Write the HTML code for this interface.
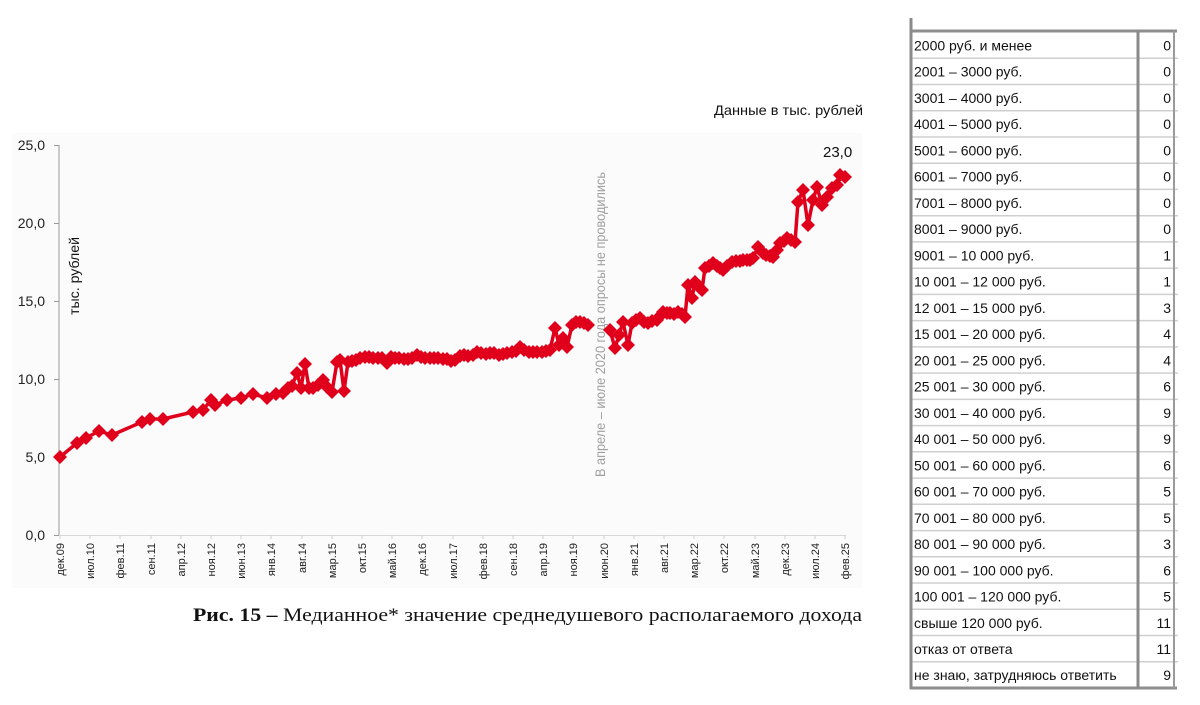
<!DOCTYPE html>
<html><head><meta charset="utf-8"><style>
html,body{margin:0;padding:0;background:#fff;}
svg{display:block;}
text{font-family:"Liberation Sans",Arial,sans-serif;}
</style></head><body>
<svg width="1200" height="705" viewBox="0 0 1200 705" xmlns="http://www.w3.org/2000/svg">
<defs>
<marker id="d" markerUnits="userSpaceOnUse" markerWidth="16" markerHeight="16" refX="8" refY="8" viewBox="0 0 16 16">
<path d="M8,1 L15,8 L8,15 L1,8 Z" fill="#e0001b"/>
</marker>
</defs>
<rect x="0" y="0" width="1200" height="705" fill="#fff"/>
<rect x="12" y="133" width="850" height="455" fill="#fbfbfb"/>

<!-- axes -->
<line x1="59" y1="145" x2="59" y2="536" stroke="#9a9a9a" stroke-width="1"/>
<line x1="59" y1="535.5" x2="846" y2="535.5" stroke="#d8d8d8" stroke-width="1"/>
<g stroke="#9a9a9a" stroke-width="1">
<line x1="54" y1="145.5" x2="59" y2="145.5"/>
<line x1="54" y1="223.5" x2="59" y2="223.5"/>
<line x1="54" y1="301.5" x2="59" y2="301.5"/>
<line x1="54" y1="379.5" x2="59" y2="379.5"/>
<line x1="54" y1="457.5" x2="59" y2="457.5"/>
<line x1="54" y1="535.5" x2="59" y2="535.5"/>
</g>
<g font-size="14" fill="#222" text-anchor="end">
<text x="45" y="150">25,0</text>
<text x="45" y="228">20,0</text>
<text x="45" y="306">15,0</text>
<text x="45" y="384">10,0</text>
<text x="45" y="462">5,0</text>
<text x="45" y="540">0,0</text>
</g>
<text transform="translate(79,315) rotate(-90)" font-size="14" fill="#111" textLength="78" lengthAdjust="spacingAndGlyphs">тыс. рублей</text>

<!-- x ticks & labels -->
<g stroke="#cfcfcf" stroke-width="1">
<line x1="60" y1="535" x2="60" y2="539"/><line x1="90" y1="535" x2="90" y2="539"/><line x1="120" y1="535" x2="120" y2="539"/><line x1="151" y1="535" x2="151" y2="539"/><line x1="181" y1="535" x2="181" y2="539"/><line x1="211" y1="535" x2="211" y2="539"/><line x1="241" y1="535" x2="241" y2="539"/><line x1="271" y1="535" x2="271" y2="539"/><line x1="302" y1="535" x2="302" y2="539"/><line x1="332" y1="535" x2="332" y2="539"/><line x1="362" y1="535" x2="362" y2="539"/><line x1="392" y1="535" x2="392" y2="539"/><line x1="422" y1="535" x2="422" y2="539"/><line x1="453" y1="535" x2="453" y2="539"/><line x1="483" y1="535" x2="483" y2="539"/><line x1="513" y1="535" x2="513" y2="539"/><line x1="543" y1="535" x2="543" y2="539"/><line x1="573" y1="535" x2="573" y2="539"/><line x1="604" y1="535" x2="604" y2="539"/><line x1="634" y1="535" x2="634" y2="539"/><line x1="664" y1="535" x2="664" y2="539"/><line x1="694" y1="535" x2="694" y2="539"/><line x1="724" y1="535" x2="724" y2="539"/><line x1="755" y1="535" x2="755" y2="539"/><line x1="785" y1="535" x2="785" y2="539"/><line x1="815" y1="535" x2="815" y2="539"/><line x1="845" y1="535" x2="845" y2="539"/>
</g>
<g font-size="11" fill="#222" text-anchor="end">
<text transform="translate(64,543) rotate(-90)">дек.09</text>
<text transform="translate(94,543) rotate(-90)">июл.10</text>
<text transform="translate(124,543) rotate(-90)">фев.11</text>
<text transform="translate(155,543) rotate(-90)">сен.11</text>
<text transform="translate(185,543) rotate(-90)">апр.12</text>
<text transform="translate(215,543) rotate(-90)">ноя.12</text>
<text transform="translate(245,543) rotate(-90)">июн.13</text>
<text transform="translate(275,543) rotate(-90)">янв.14</text>
<text transform="translate(306,543) rotate(-90)">авг.14</text>
<text transform="translate(336,543) rotate(-90)">мар.15</text>
<text transform="translate(366,543) rotate(-90)">окт.15</text>
<text transform="translate(396,543) rotate(-90)">май.16</text>
<text transform="translate(426,543) rotate(-90)">дек.16</text>
<text transform="translate(457,543) rotate(-90)">июл.17</text>
<text transform="translate(487,543) rotate(-90)">фев.18</text>
<text transform="translate(517,543) rotate(-90)">сен.18</text>
<text transform="translate(547,543) rotate(-90)">апр.19</text>
<text transform="translate(577,543) rotate(-90)">ноя.19</text>
<text transform="translate(608,543) rotate(-90)">июн.20</text>
<text transform="translate(638,543) rotate(-90)">янв.21</text>
<text transform="translate(668,543) rotate(-90)">авг.21</text>
<text transform="translate(698,543) rotate(-90)">мар.22</text>
<text transform="translate(728,543) rotate(-90)">окт.22</text>
<text transform="translate(759,543) rotate(-90)">май.23</text>
<text transform="translate(789,543) rotate(-90)">дек.23</text>
<text transform="translate(819,543) rotate(-90)">июл.24</text>
<text transform="translate(849,543) rotate(-90)">фев.25</text>
</g>

<!-- gap note -->
<text transform="translate(605,477) rotate(-90)" font-size="13.5" fill="#a0a0a0" textLength="305" lengthAdjust="spacingAndGlyphs">В апреле – июле 2020 года опросы не проводились</text>

<!-- series -->
<g fill="none" stroke="#e0001b" stroke-width="3.5" stroke-linejoin="round" marker-start="url(#d)" marker-mid="url(#d)" marker-end="url(#d)">
<polyline points="60,457 77,443 86,438 99,431 112,435 142,422 150,419 163,419 193,412 203,410 211,400 215,405 227,400 241,398 253,394 267,398 276,394 283,393 288,388 292,386 297,373 301,388 305,364 309,388 313,388 318,385 323,380 327,387 332,392 337,362 340,360 344,391 348,362 352,361 356,360 360,358 365,357 369,357 373,358 378,358 382,358 387,363 391,357 395,358 399,358 404,359 408,359 412,358 417,355 421,357 425,358 430,358 434,358 438,358 443,359 447,359 451,361 455,360 460,356 464,355 468,356 473,355 477,352 481,353 486,354 490,353 494,353 499,355 503,354 507,353 512,352 516,351 520,347 524,350 529,352 533,352 537,352 542,352 546,351 550,350 555,328 559,345 563,338 567,347 572,325 576,322 580,322 584,323 588,325"/>
<polyline points="610,330 615,348 619,335 623,322 628,345 632,323 636,320 640,318 644,322 648,323 652,321 657,320 660,316 663,312 667,313 670,313 674,314 678,312 682,314 685,317 688,285 692,298 695,282 699,287 702,290 705,268 709,266 713,263 717,266 720,268 723,270 727,266 732,262 736,261 740,261 743,260 747,260 750,260 753,258 758,247 763,253 766,255 770,256 773,257 777,250 780,243 784,241 787,238 791,240 795,242 798,202 803,190 808,225 813,200 817,187 822,205 827,197 832,188 837,185 840,175 845,177"/>
</g>

<text x="714" y="115" font-size="14" fill="#111" textLength="149" lengthAdjust="spacingAndGlyphs">Данные в тыс. рублей</text>
<text x="823" y="157" font-size="15" fill="#111">23,0</text>

<!-- caption -->
<text x="193" y="621" font-size="19" fill="#111" textLength="669" lengthAdjust="spacingAndGlyphs" style="font-family:'Liberation Serif',serif"><tspan font-weight="bold">Рис. 15 –</tspan> Медианное* значение среднедушевого располагаемого дохода</text>

<!-- table -->
<g stroke="#cfcfcf" stroke-width="1.5">
<line x1="912" y1="58.2" x2="1178" y2="58.2"/><line x1="912" y1="84.5" x2="1178" y2="84.5"/><line x1="912" y1="110.7" x2="1178" y2="110.7"/><line x1="912" y1="137" x2="1178" y2="137"/><line x1="912" y1="163.2" x2="1178" y2="163.2"/><line x1="912" y1="189.4" x2="1178" y2="189.4"/><line x1="912" y1="215.7" x2="1178" y2="215.7"/><line x1="912" y1="241.9" x2="1178" y2="241.9"/><line x1="912" y1="268.2" x2="1178" y2="268.2"/><line x1="912" y1="294.4" x2="1178" y2="294.4"/><line x1="912" y1="320.6" x2="1178" y2="320.6"/><line x1="912" y1="346.9" x2="1178" y2="346.9"/><line x1="912" y1="373.1" x2="1178" y2="373.1"/><line x1="912" y1="399.4" x2="1178" y2="399.4"/><line x1="912" y1="425.6" x2="1178" y2="425.6"/><line x1="912" y1="451.8" x2="1178" y2="451.8"/><line x1="912" y1="478.1" x2="1178" y2="478.1"/><line x1="912" y1="504.3" x2="1178" y2="504.3"/><line x1="912" y1="530.6" x2="1178" y2="530.6"/><line x1="912" y1="556.8" x2="1178" y2="556.8"/><line x1="912" y1="583" x2="1178" y2="583"/><line x1="912" y1="609.3" x2="1178" y2="609.3"/><line x1="912" y1="635.5" x2="1178" y2="635.5"/><line x1="912" y1="661.8" x2="1178" y2="661.8"/>
</g>
<line x1="910" y1="31" x2="1177" y2="31" stroke="#8e8e8e" stroke-width="3"/>
<line x1="910" y1="688" x2="1177" y2="688" stroke="#8e8e8e" stroke-width="3"/>
<line x1="911" y1="18" x2="911" y2="689" stroke="#8a8a8a" stroke-width="3"/>
<line x1="1138" y1="31" x2="1138" y2="688" stroke="#8a8a8a" stroke-width="3"/>
<line x1="1174" y1="31" x2="1174" y2="688" stroke="#9a9a9a" stroke-width="2"/>
<g font-size="14" fill="#111">
<text x="914" y="50.5">2000 руб. и менее</text>
<text x="914" y="76.7">2001 – 3000 руб.</text>
<text x="914" y="103">3001 – 4000 руб.</text>
<text x="914" y="129.2">4001 – 5000 руб.</text>
<text x="914" y="155.4">5001 – 6000 руб.</text>
<text x="914" y="181.7">6001 – 7000 руб.</text>
<text x="914" y="207.9">7001 – 8000 руб.</text>
<text x="914" y="234.2">8001 – 9000 руб.</text>
<text x="914" y="260.4">9001 – 10 000 руб.</text>
<text x="914" y="286.6">10 001 – 12 000 руб.</text>
<text x="914" y="312.9">12 001 – 15 000 руб.</text>
<text x="914" y="339.1">15 001 – 20 000 руб.</text>
<text x="914" y="365.4">20 001 – 25 000 руб.</text>
<text x="914" y="391.6">25 001 – 30 000 руб.</text>
<text x="914" y="417.8">30 001 – 40 000 руб.</text>
<text x="914" y="444.1">40 001 – 50 000 руб.</text>
<text x="914" y="470.3">50 001 – 60 000 руб.</text>
<text x="914" y="496.6">60 001 – 70 000 руб.</text>
<text x="914" y="522.8">70 001 – 80 000 руб.</text>
<text x="914" y="549">80 001 – 90 000 руб.</text>
<text x="914" y="575.3">90 001 – 100 000 руб.</text>
<text x="914" y="601.5">100 001 – 120 000 руб.</text>
<text x="914" y="627.8">свыше 120 000 руб.</text>
<text x="914" y="654">отказ от ответа</text>
<text x="914" y="680.2">не знаю, затрудняюсь ответить</text>
</g>
<g font-size="14" fill="#111" text-anchor="end">
<text x="1171" y="50.5">0</text>
<text x="1171" y="76.7">0</text>
<text x="1171" y="103">0</text>
<text x="1171" y="129.2">0</text>
<text x="1171" y="155.4">0</text>
<text x="1171" y="181.7">0</text>
<text x="1171" y="207.9">0</text>
<text x="1171" y="234.2">0</text>
<text x="1171" y="260.4">1</text>
<text x="1171" y="286.6">1</text>
<text x="1171" y="312.9">3</text>
<text x="1171" y="339.1">4</text>
<text x="1171" y="365.4">4</text>
<text x="1171" y="391.6">6</text>
<text x="1171" y="417.8">9</text>
<text x="1171" y="444.1">9</text>
<text x="1171" y="470.3">6</text>
<text x="1171" y="496.6">5</text>
<text x="1171" y="522.8">5</text>
<text x="1171" y="549">3</text>
<text x="1171" y="575.3">6</text>
<text x="1171" y="601.5">5</text>
<text x="1171" y="627.8">11</text>
<text x="1171" y="654">11</text>
<text x="1171" y="680.2">9</text>
</g>
</svg>
</body></html>
